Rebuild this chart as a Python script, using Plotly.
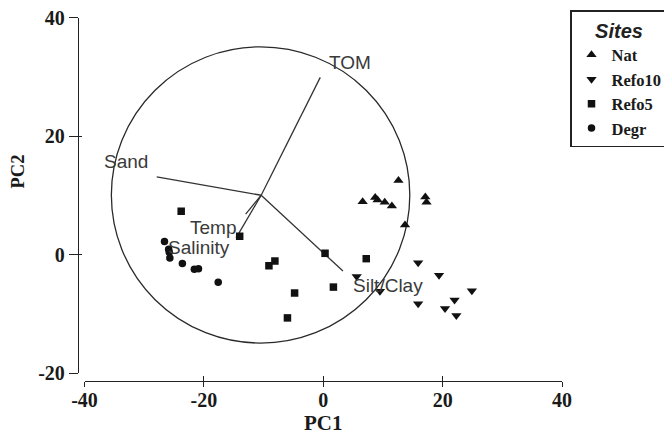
import plotly.graph_objects as go

# ---- data ----
nat_x = [12.6, 6.6, 8.7, 9.1, 10.3, 11.5, 17.1, 17.3, 13.7]
nat_y = [12.5, 8.9, 9.6, 9.2, 8.8, 8.2, 9.7, 8.8, 5.0]

refo10_x = [15.9, 19.4, 24.9, 15.9, 22.0, 20.4, 22.3, 9.5, 5.6]
refo10_y = [-1.4, -3.5, -6.1, -8.3, -7.7, -9.1, -10.3, -6.2, -3.7]

refo5_x = [-23.8, -14.0, -9.1, -8.1, 0.3, 7.2, 1.7, -4.8, -6.0]
refo5_y = [7.3, 3.1, -1.9, -1.1, 0.2, -0.7, -5.5, -6.5, -10.7]

degr_x = [-26.6, -25.9, -25.8, -25.7, -23.6, -21.6, -20.9, -17.6]
degr_y = [2.2, 0.9, 0.4, -0.6, -1.5, -2.5, -2.4, -4.7]

# environmental vectors (biplot)
vec_names = ["TOM", "Sand", "Temp", "Salinity", "Silt/Clay"]
vec_origin = [-10.4, 10.0]
vec_end_x = [-0.5, -27.9, -13.0, -14.6, 3.3]
vec_end_y = [29.9, 13.1, 6.8, 2.8, -2.8]
vec_label_x = [4.4, -33.0, -18.5, -20.9, 10.9]
vec_label_y = [32.4, 15.7, 4.6, 1.2, -5.2]

circle_center = [-10.5, 10.05]
circle_radius = 25.0

x_ticks = [-40, -20, 0, 20, 40]
y_ticks = [-20, 0, 20, 40]

# page body has an 8px default margin: the figure starts at (8, 8) of the window
OFF = 8
W, H = 672 - OFF, 436 - OFF


def fx(px):  # window pixel -> paper fraction (x)
    return (px - OFF) / W


def fy(py):  # window pixel -> paper fraction (y)
    return 1 - (py - OFF) / H


INK = "#1a1a1a"
SERIF = "Liberation Serif"
SANS = "Liberation Sans"

fig = go.Figure()

# vectors
for ex, ey in zip(vec_end_x, vec_end_y):
    fig.add_trace(go.Scatter(
        x=[vec_origin[0], ex], y=[vec_origin[1], ey], mode="lines",
        line=dict(color="#333333", width=1.3), showlegend=False, hoverinfo="skip"))

series = [
    ("Nat", nat_x, nat_y, "triangle-up", 9),
    ("Refo10", refo10_x, refo10_y, "triangle-down", 9),
    ("Refo5", refo5_x, refo5_y, "square", 7.5),
    ("Degr", degr_x, degr_y, "circle", 7.5),
]
for name, xs, ys, sym, sz in series:
    fig.add_trace(go.Scatter(
        x=xs, y=ys, mode="markers", name=name,
        marker=dict(symbol=sym, size=sz, color="#111111", line=dict(width=0))))

# dummy trace so overlay axes (inside tick halves) exist
fig.add_trace(go.Scatter(x=[None], y=[None], xaxis="x2", yaxis="y2",
                         showlegend=False, hoverinfo="skip"))

fig.add_shape(type="circle", xref="x", yref="y",
              x0=circle_center[0] - circle_radius, x1=circle_center[0] + circle_radius,
              y0=circle_center[1] - circle_radius, y1=circle_center[1] + circle_radius,
              line=dict(color="#2a2a2a", width=1.3), layer="below")

for name, lx, ly in zip(vec_names, vec_label_x, vec_label_y):
    fig.add_annotation(x=lx, y=ly, xref="x", yref="y", text=name, showarrow=False,
                       font=dict(family=SANS, size=19, color="#3a3a3a"))

xdom = [fx(84.5), fx(562)]
ydom = [fy(373), fy(17.5)]
xpos = fy(381)
ypos = fx(78)

tickfont = dict(family=SERIF, size=20, color=INK, weight="bold")

fig.update_layout(
    width=W, height=H,
    margin=dict(l=0, r=0, t=0, b=0, pad=0, autoexpand=False),
    paper_bgcolor="white", plot_bgcolor="white",
    xaxis=dict(domain=xdom, range=[-40, 40], anchor="free", position=xpos,
               showline=True, linecolor="#222222", linewidth=1.3,
               ticks="outside", ticklen=5, tickwidth=1.3, tickcolor="#222222",
               tickvals=x_ticks, ticktext=[str(v) for v in x_ticks],
               ticklabelstandoff=-4, ticklabeloverflow="allow",
               tickfont=tickfont, showgrid=False, zeroline=False, automargin=False),
    yaxis=dict(domain=ydom, range=[-20, 40], anchor="free", position=ypos,
               showline=True, linecolor="#222222", linewidth=1.3,
               ticks="outside", ticklen=9, tickwidth=1.3, tickcolor="#222222",
               tickvals=y_ticks, ticktext=[str(v) for v in y_ticks],
               ticklabeloverflow="allow",
               tickfont=tickfont, showgrid=False, zeroline=False, automargin=False),
    xaxis2=dict(domain=xdom, range=[-40, 40], anchor="free", position=xpos,
                overlaying="x", showline=False, ticks="inside", ticklen=5,
                tickwidth=1.3, tickcolor="#222222", tickvals=x_ticks,
                showticklabels=False, showgrid=False, zeroline=False),
    yaxis2=dict(domain=ydom, range=[-20, 40], anchor="free", position=ypos,
                overlaying="y", showline=False, ticks="inside", ticklen=3,
                tickwidth=1.3, tickcolor="#222222", tickvals=y_ticks,
                showticklabels=False, showgrid=False, zeroline=False),
    showlegend=True,
    legend=dict(x=fx(570), y=fy(10), xanchor="left", yanchor="top",
                bordercolor="#222222", borderwidth=1.5, bgcolor="white",
                font=dict(family=SERIF, size=16.5, color=INK, weight="bold"),
                title=dict(text="Sites", side="top center",
                           font=dict(family=SANS, size=20, color="#222222",
                                     style="italic")),
                itemwidth=30, tracegroupgap=0),
)

fig.add_annotation(x=fx(323), y=fy(423), xref="paper", yref="paper",
                   text="PC1", showarrow=False, xanchor="center", yanchor="middle",
                   font=dict(family=SERIF, size=21, color=INK, weight="bold"))
fig.add_annotation(x=fx(17.5), y=fy(172), xref="paper", yref="paper",
                   text="PC2", showarrow=False, textangle=-90,
                   xanchor="center", yanchor="middle",
                   font=dict(family=SERIF, size=18.5, color=INK, weight="bold"))

fig.write_html("out.html")
